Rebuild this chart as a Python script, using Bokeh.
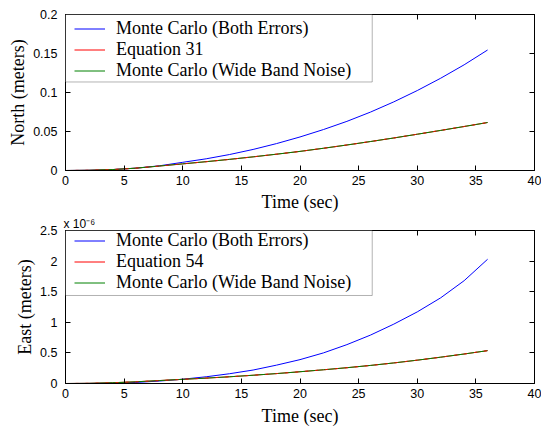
from bokeh.plotting import figure
from bokeh.models import (LinearAxis, FixedTicker, CustomJSTickFormatter, Legend,
                          LegendItem, BoxAnnotation, Range1d, Title)
from bokeh.layouts import column
from bokeh.embed import file_html
from bokeh.resources import INLINE

# ---------------- data ----------------
time_s = [0, 2, 4, 6, 8, 10, 12, 14, 16, 18, 20, 22, 24, 26, 28, 30, 32, 34, 36]

north_both = [0, 0.0003, 0.0012, 0.0030, 0.0060, 0.0105, 0.0150, 0.0205, 0.0270,
              0.0345, 0.0430, 0.0525, 0.0630, 0.0748, 0.0880, 0.1025, 0.1183,
              0.1355, 0.1545]
north_eq31 = [0, 0.0003, 0.0012, 0.0030, 0.0057, 0.0085, 0.0113, 0.0143, 0.0175,
              0.0209, 0.0245, 0.0285, 0.0327, 0.0371, 0.0417, 0.0465, 0.0514,
              0.0564, 0.0615]
north_wide = [0, 0.0003, 0.0012, 0.0030, 0.0057, 0.0085, 0.0113, 0.0143, 0.0175,
              0.0209, 0.0245, 0.0285, 0.0327, 0.0371, 0.0417, 0.0465, 0.0514,
              0.0564, 0.0615]

# East values in units of 1e-6 m (axis multiplier "x 10^-6")
east_both = [0, 0.001, 0.005, 0.017, 0.040, 0.070, 0.110, 0.160, 0.220, 0.300,
             0.390, 0.500, 0.635, 0.790, 0.970, 1.170, 1.400, 1.680, 2.030]
east_eq54 = [0, 0.003, 0.012, 0.028, 0.048, 0.068, 0.088, 0.110, 0.135, 0.162,
             0.192, 0.224, 0.258, 0.295, 0.336, 0.381, 0.430, 0.482, 0.537]
east_wide = [0, 0.003, 0.012, 0.028, 0.048, 0.068, 0.088, 0.110, 0.135, 0.162,
             0.192, 0.224, 0.258, 0.295, 0.336, 0.381, 0.430, 0.482, 0.537]

x_ticks = [0, 5, 10, 15, 20, 25, 30, 35, 40]
north_ticks = [0, 0.05, 0.1, 0.15, 0.2]
east_ticks = [0, 0.5, 1, 1.5, 2, 2.5]

labels_north = ["Monte Carlo (Both Errors)", "Equation 31", "Monte Carlo (Wide Band Noise)"]
labels_east = ["Monte Carlo (Both Errors)", "Equation 54", "Monte Carlo (Wide Band Noise)"]
east_multiplier = "x 10\u207b\u2076"

BLUE, RED, GREEN = "#0000ff", "#ff0000", "#008000"
SERIF = "Liberation Serif"
SANS = "Liberation Sans"

fmt = CustomJSTickFormatter(code="return Number(tick.toPrecision(6)).toString();")
blank = CustomJSTickFormatter(code="return '';")


def style_axis(ax, ticks, show_labels=True):
    ax.ticker = FixedTicker(ticks=ticks)
    ax.major_tick_in = 5
    ax.major_tick_out = 0
    ax.minor_tick_line_color = None
    ax.axis_line_color = "black"
    ax.major_tick_line_color = "black"
    if show_labels:
        ax.formatter = fmt
        ax.major_label_text_font = SANS
        ax.major_label_text_font_size = "12.5px"
        ax.major_label_text_color = "black"
        ax.axis_label_text_font = SERIF
        ax.axis_label_text_font_size = "18px"
        ax.axis_label_text_font_style = "normal"
        ax.axis_label_text_color = "black"
    else:
        ax.formatter = blank
        ax.major_label_text_font_size = "0px"
        ax.major_label_standoff = 0


def make_panel(height, top, bottom, ymax, yticks, ylabel, ys, labels, box_bottom,
               legend_y, xlabel_standoff, title=None):
    kw = {}
    if title is not None:
        kw["title"] = title
    p = figure(width=541, height=height, x_range=Range1d(0, 40), y_range=Range1d(0, ymax),
               output_backend="svg", toolbar_location=None,
               min_border_left=65, min_border_right=7,
               min_border_top=top, min_border_bottom=bottom, **kw)
    p.grid.visible = False
    p.outline_line_color = "black"
    p.outline_line_alpha = 1
    p.background_fill_color = "white"
    p.border_fill_color = "white"

    style_axis(p.xaxis[0], x_ticks)
    style_axis(p.yaxis[0], yticks)
    p.xaxis[0].axis_label = "Time (sec)"
    p.xaxis[0].major_label_standoff = 5
    p.xaxis[0].axis_label_standoff = xlabel_standoff
    p.yaxis[0].axis_label = ylabel
    p.yaxis[0].major_label_standoff = 8
    p.yaxis[0].axis_label_standoff = 2

    ax_top = LinearAxis()
    style_axis(ax_top, x_ticks, False)
    p.add_layout(ax_top, "above")
    ax_right = LinearAxis()
    style_axis(ax_right, yticks, False)
    p.add_layout(ax_right, "right")

    r_blue = p.line(time_s, ys[0], line_color=BLUE, line_width=1)
    r_red = p.line(time_s, ys[1], line_color=RED, line_width=1)
    r_green = p.line(time_s, ys[2], line_color=GREEN, line_width=1)
    # red flecks of the analytic curve peeking through the green Monte Carlo line
    p.line(time_s, ys[1], line_color=RED, line_width=1, line_dash="3 7", line_alpha=0.85)

    box = BoxAnnotation(left=0, right=26.16, top=ymax, bottom=box_bottom,
                        fill_color="white", fill_alpha=1,
                        line_color="black", line_width=1)
    p.add_layout(box)

    items = [LegendItem(label=labels[0], renderers=[r_blue]),
             LegendItem(label=labels[1], renderers=[r_red]),
             LegendItem(label=labels[2], renderers=[r_green])]
    leg = Legend(items=items, location=(7, legend_y), padding=2, spacing=0, margin=0,
                 glyph_width=31, glyph_height=21, label_height=21, label_standoff=11,
                 label_text_font=SERIF, label_text_font_size="18px",
                 label_text_color="black",
                 border_line_alpha=0, background_fill_alpha=0)
    p.add_layout(leg)
    return p


# top: frame 14..169; legend box bottom at y=81
p1 = make_panel(214, 14, 42, 0.2, north_ticks, "North (meters)",
                [north_both, north_eq31, north_wide], labels_north, 0.1135, 87.2, 4)

t2 = Title(text=east_multiplier, align="left", offset=-2, standoff=0,
           text_font=SANS, text_font_size="12px", text_font_style="normal",
           text_color="black", text_line_height=0.8)
# bottom: frame ~229..382; legend box bottom at y=294
p2 = make_panel(214, 13, 45, 2.5, east_ticks, "East (meters)",
                [east_both, east_eq54, east_wide], labels_east, 1.438, 87.8, 5, title=t2)

layout = column(p1, p2, spacing=0)
open("out.html", "w").write(file_html(layout, INLINE))
